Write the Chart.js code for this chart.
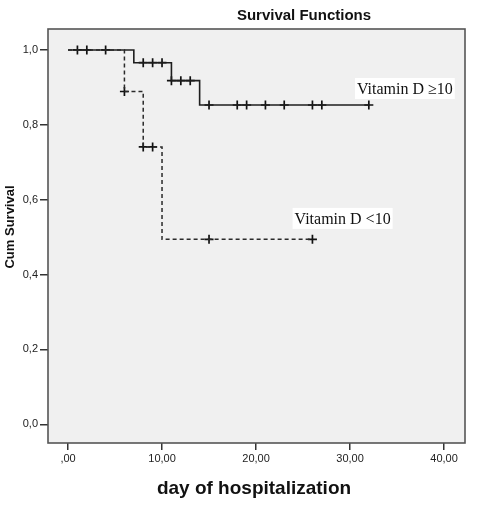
<!DOCTYPE html>
<html>
<head>
<meta charset="utf-8">
<script src="https://cdn.jsdelivr.net/npm/chart.js@4.4.1/dist/chart.umd.min.js"></script>
<style>
  html, body { margin: 0; padding: 0; background: #fff; }
  #wrap { width: 490px; height: 513px; }
</style>
</head>
<body>
<div id="wrap"><canvas id="km"></canvas></div>
<script>
// Kaplan-Meier estimates
var highTimes = [0, 7, 11, 14];               // Vitamin D >= 10, event days
var highSurv = [1.0, 0.966, 0.918, 0.853];
var highEnd = 32;
var highCensor = [1, 2, 4, 8, 9, 10, 11, 12, 13, 15, 18, 19, 21, 23, 26, 27, 32];

var lowTimes = [0, 6, 8, 10];                 // Vitamin D < 10, event days
var lowSurv = [1.0, 0.889, 0.741, 0.494];
var lowEnd = 26;
var lowCensor = [6, 8, 9, 15, 26];

var xTicks = [0, 10, 20, 30, 40];
var yTicks = [0, 0.2, 0.4, 0.6, 0.8, 1.0];

var chartTitle = "Survival Functions";
var xTitle = "day of hospitalization";
var yTitle = "Cum Survival";
var groupLabels = ["Vitamin D \u226510", "Vitamin D <10"];
// where the group labels sit, in data units (left edge, vertical middle)
var labelAnchors = [{ x: 30.74, y: 0.897 }, { x: 24.1, y: 0.55 }];

function stepPoints(times, surv, end) {
	var pts = [];
	for (var i = 0; i < times.length; i++) pts.push({ x: times[i], y: surv[i] });
	pts.push({ x: end, y: surv[surv.length - 1] });
	return pts;
}

function survAt(times, surv, t) {
	var s = surv[0];
	for (var i = 0; i < times.length; i++) {
		if (times[i] <= t) s = surv[i];
	}
	return s;
}

function censorPoints(times, surv, cens) {
	return cens.map(function (t) { return { x: t, y: survAt(times, surv, t) }; });
}

function comma(v, digits) {
	var s = v.toFixed(digits).replace(".", ",");
	if (s.indexOf("0,") === 0 && digits === 2) s = s.substring(1);
	return s;
}

var boxPlugin = {
	id: "spssBox",
	beforeDraw: function (chart) {
		var ctx = chart.ctx, a = chart.chartArea;
		ctx.save();
		ctx.fillStyle = "#f0f0f0";
		ctx.fillRect(a.left, a.top, a.right - a.left, a.bottom - a.top);
		ctx.restore();
	},
	afterDraw: function (chart) {
		var ctx = chart.ctx, a = chart.chartArea;
		var xs = chart.scales.x, ys = chart.scales.y;
		ctx.save();
		ctx.strokeStyle = "#555";
		ctx.lineWidth = 1.6;
		ctx.strokeRect(a.left, a.top, a.right - a.left, a.bottom - a.top);

		// group labels on white boxes
		ctx.font = "16px 'Liberation Serif', 'Times New Roman', serif";
		ctx.textBaseline = "middle";
		ctx.textAlign = "left";
		for (var i = 0; i < groupLabels.length; i++) {
			var px = xs.getPixelForValue(labelAnchors[i].x);
			var py = ys.getPixelForValue(labelAnchors[i].y);
			var w = ctx.measureText(groupLabels[i]).width;
			ctx.fillStyle = "#ffffff";
			ctx.fillRect(px - 2, py - 10.5, w + 4, 21);
			ctx.fillStyle = "#111";
			ctx.fillText(groupLabels[i], px, py + 1);
		}

		// titles
		ctx.fillStyle = "#111";
		ctx.textAlign = "center";
		ctx.font = "bold 15px 'Liberation Sans', Arial, sans-serif";
		ctx.fillText(chartTitle, 304, 16);
		ctx.font = "bold 19px 'Liberation Sans', Arial, sans-serif";
		ctx.fillText(xTitle, 254, 489);
		ctx.translate(10, 227);
		ctx.rotate(-Math.PI / 2);
		ctx.font = "bold 13px 'Liberation Sans', Arial, sans-serif";
		ctx.fillText(yTitle, 0, 0);
		ctx.restore();
	}
};

var tickFont = { family: "'Liberation Sans', Arial, sans-serif", size: 11 };

new Chart(document.getElementById("km"), {
	type: "line",
	data: {
		datasets: [
			{
				data: stepPoints(lowTimes, lowSurv, lowEnd),
				stepped: "before",
				borderColor: "#2a2a2a",
				borderWidth: 1.5,
				borderDash: [4, 3],
				pointRadius: 0,
				fill: false
			},
			{
				data: stepPoints(highTimes, highSurv, highEnd),
				stepped: "before",
				borderColor: "#1e1e1e",
				borderWidth: 1.6,
				pointRadius: 0,
				fill: false
			},
			{
				type: "scatter",
				data: censorPoints(lowTimes, lowSurv, lowCensor),
				pointStyle: "cross",
				pointRadius: 4.5,
				borderColor: "#111",
				borderWidth: 1.7,
				showLine: false
			},
			{
				type: "scatter",
				data: censorPoints(highTimes, highSurv, highCensor),
				pointStyle: "cross",
				pointRadius: 4.5,
				borderColor: "#111",
				borderWidth: 1.7,
				showLine: false
			}
		]
	},
	options: {
		responsive: true,
		maintainAspectRatio: false,
		animation: false,
		layout: { padding: { top: 29, right: 25, left: 0, bottom: 0 } },
		plugins: { legend: { display: false }, tooltip: { enabled: false }, title: { display: false } },
		scales: {
			x: {
				type: "linear",
				min: -2.13,
				max: 42.23,
				afterBuildTicks: function (s) { s.ticks = xTicks.map(function (v) { return { value: v }; }); },
				afterFit: function (s) { s.height = 70; },
				grid: { drawOnChartArea: false, drawTicks: true, tickLength: 7, color: "#333", lineWidth: 1.5 },
				border: { display: false },
				ticks: { font: tickFont, color: "#222", padding: 2, maxRotation: 0,
					callback: function (v) { return comma(v, 2); } }
			},
			y: {
				type: "linear",
				min: -0.05,
				max: 1.056,
				afterBuildTicks: function (s) { s.ticks = yTicks.map(function (v) { return { value: v }; }); },
				afterFit: function (s) { s.width = 48; },
				grid: { drawOnChartArea: false, drawTicks: true, tickLength: 8, color: "#333", lineWidth: 1.5 },
				border: { display: false },
				ticks: { font: tickFont, color: "#222", padding: 2,
					callback: function (v) { return comma(v, 1); } }
			}
		}
	},
	plugins: [boxPlugin]
});
</script>
</body>
</html>
